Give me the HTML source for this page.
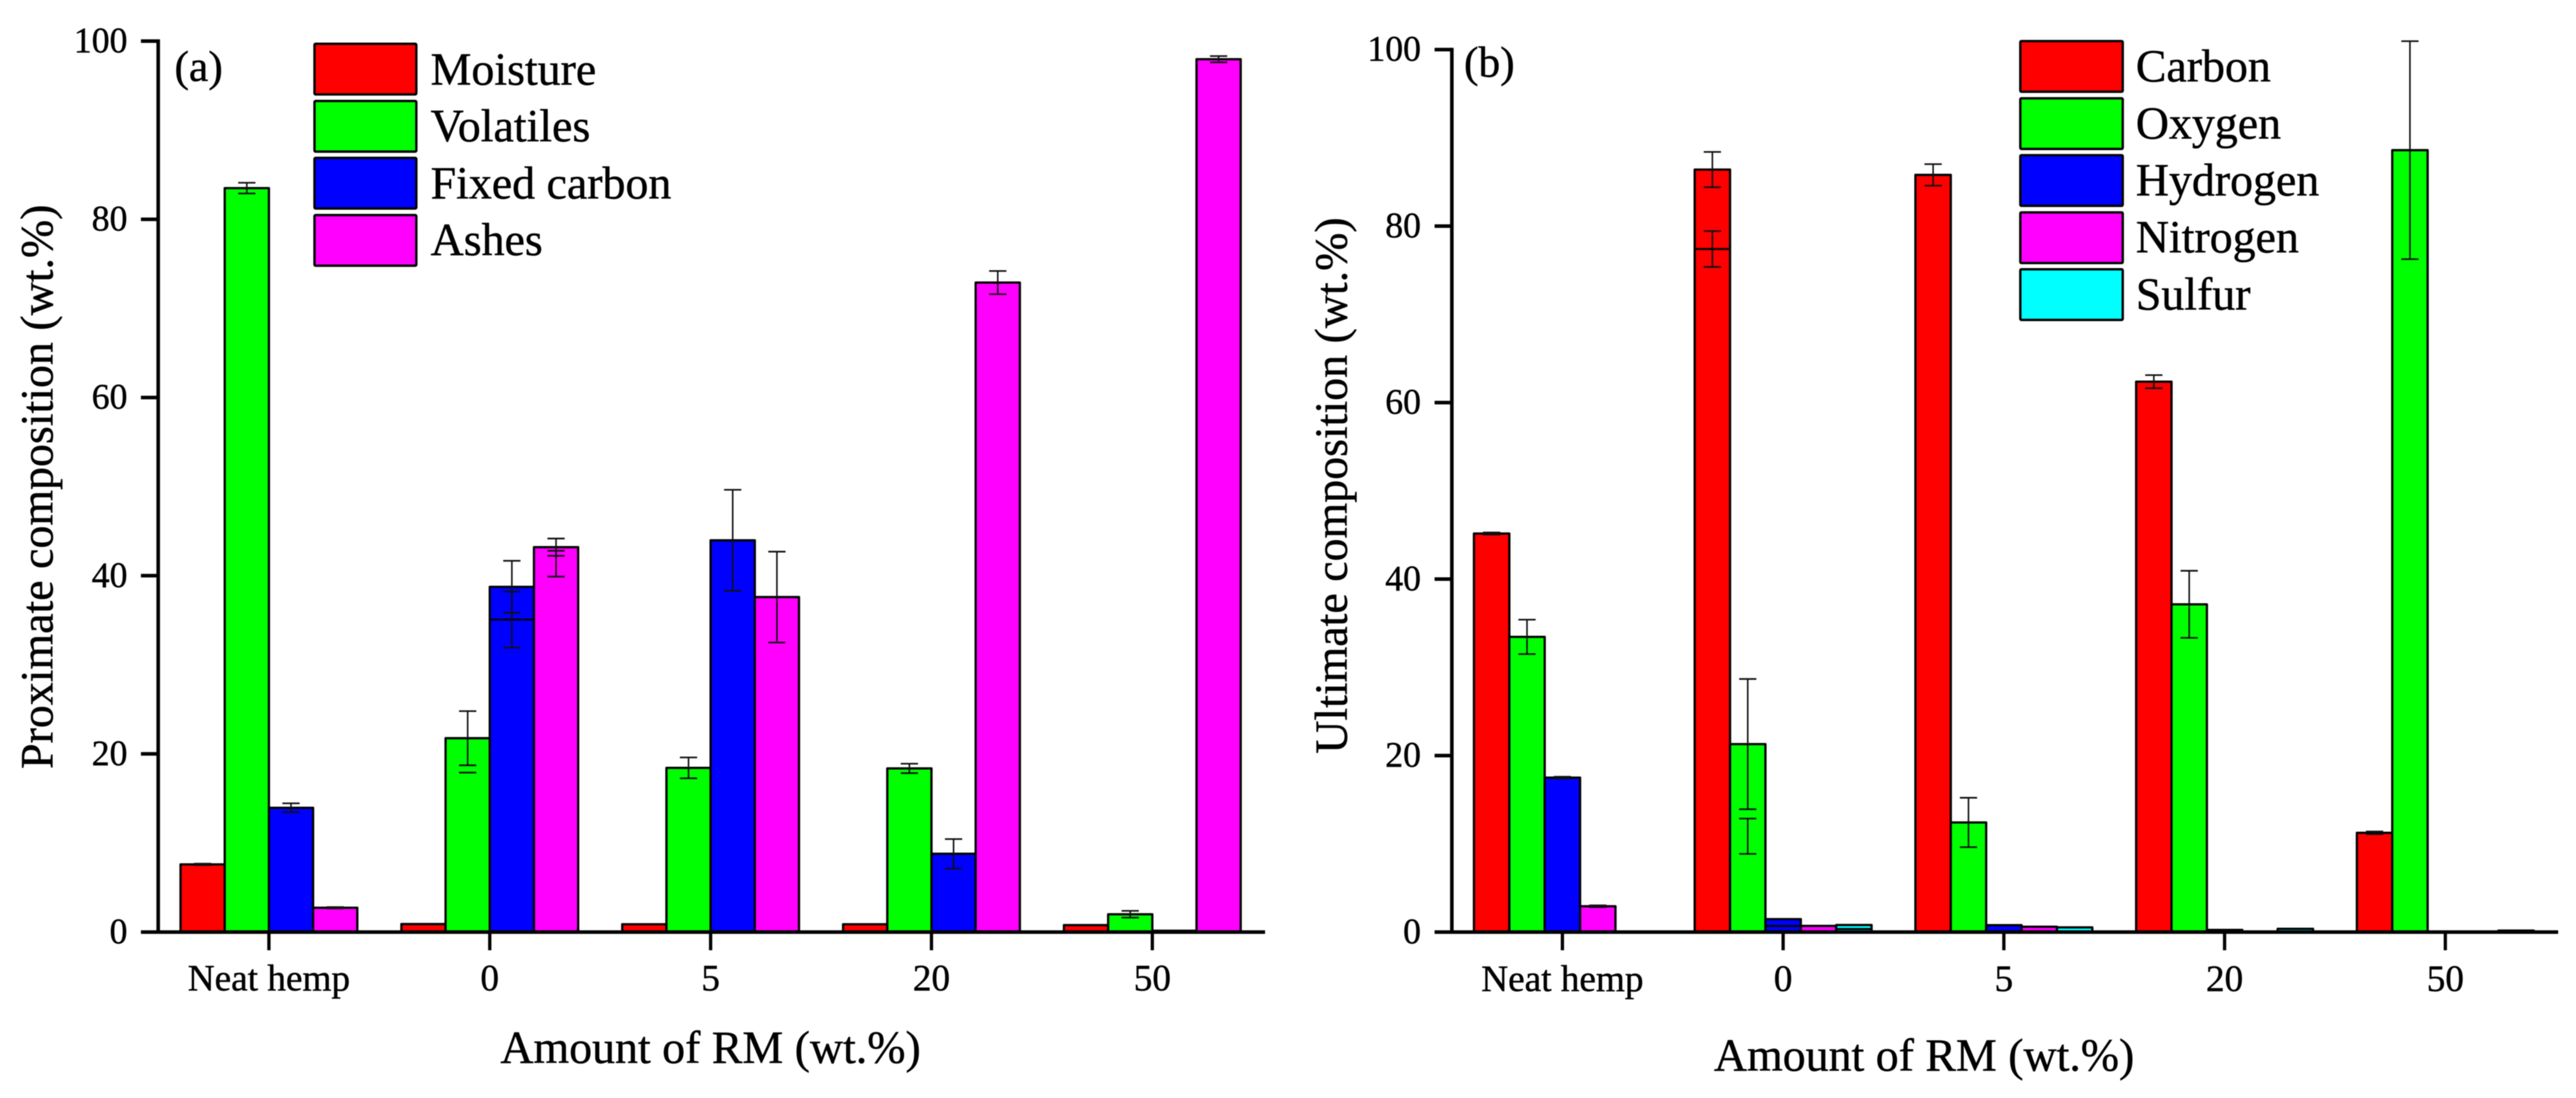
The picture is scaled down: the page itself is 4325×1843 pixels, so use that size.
<!DOCTYPE html>
<html lang="en">
<head>
<meta charset="utf-8">
<title>Proximate and ultimate composition charts</title>
<style>
  html, body { margin: 0; padding: 0; background: #fff; }
  body { width: 4325px; height: 1843px; overflow: hidden; }
  svg { display: block; filter: blur(0.9px); }
  text { font-family: "Liberation Serif", serif; fill: #000; stroke: #000; stroke-width: 0.7px; }
</style>
</head>
<body>
<svg id="figure" xmlns="http://www.w3.org/2000/svg" width="4325" height="1843" viewBox="0 0 4325 1843">
  <rect x="0" y="0" width="4325" height="1843" fill="#fff"/>

  <g id="panel-a">
    <g id="a-marks"></g>
    <g id="a-axes"></g>
    <text x="88" y="817" font-size="77" text-anchor="middle" transform="rotate(-90 88 817)">Proximate composition (wt.%)</text>
    <text x="1193" y="1784" font-size="77" text-anchor="middle">Amount of RM (wt.%)</text>
    <text x="293" y="136" font-size="73">(a)</text>
    <g>
      <rect x="528" y="73.5" width="171" height="85" rx="2" fill="#ff0000" stroke="#000" stroke-width="4"/>
      <rect x="528" y="169.5" width="171" height="85" rx="2" fill="#00ff00" stroke="#000" stroke-width="4"/>
      <rect x="528" y="265" width="171" height="85" rx="2" fill="#0000ff" stroke="#000" stroke-width="4"/>
      <rect x="528" y="361" width="171" height="85" rx="2" fill="#ff00ff" stroke="#000" stroke-width="4"/>
      <text x="723" y="142" font-size="77">Moisture</text>
      <text x="723" y="237" font-size="77">Volatiles</text>
      <text x="723" y="333" font-size="77">Fixed carbon</text>
      <text x="723" y="428" font-size="77">Ashes</text>
    </g>
  </g>

  <g id="panel-b">
    <g id="b-marks"></g>
    <g id="b-axes"></g>
    <text x="2261" y="815" font-size="77" text-anchor="middle" transform="rotate(-90 2261 815)">Ultimate composition (wt.%)</text>
    <text x="3230.5" y="1797" font-size="77" text-anchor="middle">Amount of RM (wt.%)</text>
    <text x="2458" y="129" font-size="73">(b)</text>
    <g>
      <rect x="3392" y="69" width="172" height="85" rx="2" fill="#ff0000" stroke="#000" stroke-width="4"/>
      <rect x="3392" y="165" width="172" height="85" rx="2" fill="#00ff00" stroke="#000" stroke-width="4"/>
      <rect x="3392" y="260.5" width="172" height="85" rx="2" fill="#0000ff" stroke="#000" stroke-width="4"/>
      <rect x="3392" y="356.5" width="172" height="85" rx="2" fill="#ff00ff" stroke="#000" stroke-width="4"/>
      <rect x="3392" y="452" width="172" height="85" rx="2" fill="#00ffff" stroke="#000" stroke-width="4"/>
      <text x="3586" y="136.5" font-size="77">Carbon</text>
      <text x="3586" y="232.5" font-size="77">Oxygen</text>
      <text x="3586" y="328" font-size="77">Hydrogen</text>
      <text x="3586" y="423.5" font-size="77">Nitrogen</text>
      <text x="3586" y="519.5" font-size="77">Sulfur</text>
    </g>
  </g>
</svg>

<script>
// Shared axis labels
const categories = ['Neat hemp', '0', '5', '20', '50'];
const yTickValues = [0, 20, 40, 60, 80, 100];

// Panel (a): proximate composition, wt.%
const proximateNames = ['moisture', 'volatiles', 'fixed-carbon', 'ashes'];
const moisture = [7.6, 0.9, 0.88, 0.88, 0.78];
const volatiles = [83.5, 21.76, 18.43, 18.37, 2.0];
const fixedCarbon = [13.95, 38.75, 43.97, 8.79, 0.15];
const ashes = [2.73, 43.2, 37.6, 72.9, 97.97];
const moistureErr = [0.08, 0, 0, 0, 0];
const volatilesErr = [0.6, 3.04, 1.17, 0.53, 0.38];
const fixedCarbonErr = [0.5, 2.92, 5.67, 1.65, 0];
const ashesErr = [0.08, 0.97, 5.1, 1.3, 0.35];
// Doubled marks visible in the source figure: category, series, value, error, top line shown
const proximateGhosts = [
  [1, 1, 17.9, 0, false],
  [1, 2, 35.07, 3.15, true],
  [1, 3, 41.35, 1.45, false]
];

// Panel (b): ultimate composition, wt.%
const ultimateNames = ['carbon', 'oxygen', 'hydrogen', 'nitrogen', 'sulfur'];
const carbon = [45.16, 86.4, 85.8, 62.37, 11.25];
const oxygen = [33.45, 21.3, 12.42, 37.14, 88.6];
const hydrogen = [17.5, 1.47, 0.78, 0.24, 0];
const nitrogen = [2.93, 0.7, 0.61, 0.05, 0];
const sulfur = [0, 0.8, 0.53, 0.37, 0.17];
const carbonErr = [0.12, 2.0, 1.22, 0.74, 0.15];
const oxygenErr = [1.95, 7.38, 2.8, 3.8, 12.35];
const hydrogenErr = [0.1, 0, 0, 0, 0];
const nitrogenErr = [0.1, 0, 0, 0, 0];
const sulfurErr = [0, 0, 0, 0, 0];
const ultimateGhosts = [
  [1, 0, 77.4, 2.03, true],
  [1, 1, 10.86, 2.0, false],
  [1, 2, 0.69, 0, true],
  [1, 4, 0.35, 0, true]
];

const proximateValues = [moisture, volatiles, fixedCarbon, ashes];
const proximateErrors = [moistureErr, volatilesErr, fixedCarbonErr, ashesErr];
const ultimateValues = [carbon, oxygen, hydrogen, nitrogen, sulfur];
const ultimateErrors = [carbonErr, oxygenErr, hydrogenErr, nitrogenErr, sulfurErr];
const seriesColors = ['#ff0000', '#00ff00', '#0000ff', '#ff00ff', '#00ffff'];

const SVG_NS = 'http://www.w3.org/2000/svg';

function make(parent, tag, props) {
  const node = document.createElementNS(SVG_NS, tag);
  for (const key in props) node.setAttribute(key, props[key]);
  parent.appendChild(node);
  return node;
}

function drawErrorLine(g, x, yTop, yBottom, label) {
  const el = make(g, 'line', { x1: x, x2: x, y1: yTop, y2: yBottom, stroke: '#111', 'stroke-width': 2.6 });
  
  
}

function drawCap(g, x, y, label) {
  const el = make(g, 'line', { x1: x - 14.5, x2: x + 14.5, y1: y, y2: y, stroke: '#111', 'stroke-width': 2.8 });
  
  
}

function drawPanel(cfg) {
  const marks = document.getElementById(cfg.marksId);
  const axes = document.getElementById(cfg.axesId);
  const yScale = v => cfg.yZero - (v * (cfg.yZero - cfg.yHundred)) / 100;
  const xCenter = i => cfg.xFirst + i * cfg.xStep;
  const count = cfg.values.length;
  const xBar = (c, s) => xCenter(c) - (count * cfg.barWidth) / 2 + s * cfg.barWidth;

  // Bars
  cfg.values.forEach((series, s) => {
    series.forEach((value, c) => {
      const top = yScale(value);
      const bar = make(marks, 'rect', {
        x: xBar(c, s), y: top, width: cfg.barWidth, height: Math.max(cfg.yZero - top, 0),
        fill: seriesColors[s], stroke: '#000', 'stroke-width': 3.8, 'stroke-linejoin': 'round'
      });
      
      
    });
  });

  // Doubled top lines
  cfg.ghosts.forEach(ghost => {
    if (!ghost[4]) return;
    const y = yScale(ghost[2]);
    const x = xBar(ghost[0], ghost[1]);
    const line = make(marks, 'line', { x1: x, x2: x + cfg.barWidth, y1: y, y2: y, stroke: '#000', 'stroke-width': 3.4 });
    
    
  });

  // Error bars
  cfg.errors.forEach((series, s) => {
    series.forEach((err, c) => {
      if (!err) return;
      const x = xBar(c, s) + cfg.barWidth / 2;
      const v = cfg.values[s][c];
      const label = cfg.names[s] + '-' + c;
      drawErrorLine(marks, x, yScale(v + err), yScale(v - err), label);
      drawCap(marks, x, yScale(v + err), label);
      drawCap(marks, x, yScale(v - err), label);
    });
  });
  cfg.ghosts.forEach(ghost => {
    const err = ghost[3];
    const x = xBar(ghost[0], ghost[1]) + cfg.barWidth / 2;
    const label = cfg.names[ghost[1]] + '-overlay';
    if (err > 0) {
      drawErrorLine(marks, x, yScale(ghost[2] + err), yScale(ghost[2] - err), label);
      drawCap(marks, x, yScale(ghost[2] + err), label);
      drawCap(marks, x, yScale(ghost[2] - err), label);
    } else if (!ghost[4]) {
      drawCap(marks, x, yScale(ghost[2]), label);
    }
  });

  // Axes
  const yAxis = make(axes, 'line', { x1: cfg.yAxisX, x2: cfg.yAxisX, y1: yScale(100) - 3, y2: cfg.yZero, stroke: '#000', 'stroke-width': 6 });
  
  
  const xAxis = make(axes, 'line', { x1: cfg.yAxisX, x2: cfg.xAxisEnd, y1: cfg.yZero, y2: cfg.yZero, stroke: '#000', 'stroke-width': 6 });
  
  

  yTickValues.forEach(v => {
    const y = yScale(v);
    const tick = make(axes, 'line', { x1: cfg.yAxisX - 29, x2: cfg.yAxisX, y1: y, y2: y, stroke: '#000', 'stroke-width': 6 });
    
    
    const label = make(axes, 'text', { x: cfg.yLabelX, y: y + 19, 'font-size': 60, 'text-anchor': 'end' });
    label.textContent = String(v);
    
    
  });

  categories.forEach((name, c) => {
    const x = xCenter(c);
    const tick = make(axes, 'line', { x1: x, x2: x, y1: cfg.yZero, y2: 1595, stroke: '#000', 'stroke-width': 5.5 });
    
    
    const label = make(axes, 'text', { x: x, y: cfg.xLabelY, 'font-size': 62.5, 'text-anchor': 'middle' });
    label.textContent = name;
    
    
  });
}

drawPanel({
  marksId: 'a-marks', axesId: 'a-axes',
  names: proximateNames, values: proximateValues, errors: proximateErrors, ghosts: proximateGhosts,
  yZero: 1564.5, yHundred: 69,
  xFirst: 451.5, xStep: 370.8, barWidth: 74.2,
  yAxisX: 265.6, xAxisEnd: 2124, yLabelX: 214, xLabelY: 1662.5
});

drawPanel({
  marksId: 'b-marks', axesId: 'b-axes',
  names: ultimateNames, values: ultimateValues, errors: ultimateErrors, ghosts: ultimateGhosts,
  yZero: 1564.5, yHundred: 83.2,
  xFirst: 2623.2, xStep: 370.6, barWidth: 59.4,
  yAxisX: 2437.6, xAxisEnd: 4295, yLabelX: 2385.7, xLabelY: 1663.7
});
</script>
</body>
</html>
